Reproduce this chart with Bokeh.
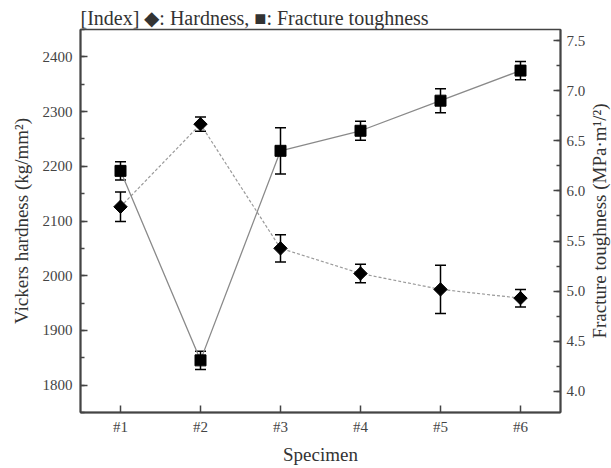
import math
from bokeh.plotting import figure
from bokeh.models import (ColumnDataSource, FactorRange, Range1d, LinearAxis, Label,
                          SingleIntervalTicker, Whisker, TeeHead, PrintfTickFormatter)
from bokeh.embed import file_html
from bokeh.resources import INLINE

specimens = ["#1", "#2", "#3", "#4", "#5", "#6"]
hardness = [2126, 2277, 2050, 2004, 1975, 1959]
hardness_err = [27, 13, 25, 17, 44, 16]
toughness = [6.20, 4.31, 6.40, 6.60, 6.90, 7.20]
toughness_err = [0.09, 0.09, 0.23, 0.095, 0.12, 0.09]

SERIF = "Liberation Serif"
TXT = "#333333"
AX = "#444444"

src_h = ColumnDataSource(dict(
    x=specimens, y=hardness,
    upper=[v + e for v, e in zip(hardness, hardness_err)],
    lower=[v - e for v, e in zip(hardness, hardness_err)]))
src_t = ColumnDataSource(dict(
    x=specimens, y=toughness,
    upper=[v + e for v, e in zip(toughness, toughness_err)],
    lower=[v - e for v, e in zip(toughness, toughness_err)]))

W, H = 611, 468
BL, BR, BT, BB = 80, 51, 29, 56
Y2 = (3.79, 7.61)

p = figure(width=W, height=H, output_backend="svg", toolbar_location=None,
           x_range=FactorRange(factors=specimens, range_padding=0),
           y_range=Range1d(1750, 2450),
           min_border_left=BL, min_border_right=BR, min_border_top=BT, min_border_bottom=BB)
p.extra_y_ranges = {"right": Range1d(*Y2)}

p.title.text = "[Index] \u25c6: Hardness, \u25a0: Fracture toughness"
p.title.text_font = SERIF
p.title.text_font_size = "20px"
p.title.text_font_style = "normal"
p.title.text_color = TXT
p.title.align = "left"
p.title.standoff = 2

p.grid.visible = False
p.background_fill_color = "white"
p.border_fill_color = "white"
p.outline_line_color = AX
p.outline_line_width = 1.5

# lines
p.line("x", "y", source=src_h, line_color="#9a9a9a", line_width=1.2, line_dash="3 2")
p.line("x", "y", source=src_t, line_color="#8a8a8a", line_width=1.3, y_range_name="right")

# error bars
for src, rng in ((src_h, "default"), (src_t, "right")):
    w = Whisker(source=src, base="x", upper="upper", lower="lower", dimension="height",
                line_color="black", line_width=1.5, y_range_name=rng,
                upper_head=TeeHead(size=11, line_color="black", line_width=1.5),
                lower_head=TeeHead(size=11, line_color="black", line_width=1.5))
    p.add_layout(w)

# markers
p.scatter("x", "y", source=src_h, marker="square", angle=math.pi / 4, size=9.5,
          fill_color="black", line_color="black")
p.scatter("x", "y", source=src_t, marker="square", size=11,
          fill_color="black", line_color="black", y_range_name="right")

# axes
def style_axis(ax):
    ax.axis_line_color = AX
    ax.axis_line_width = 2
    ax.major_tick_line_color = AX
    ax.major_tick_line_width = 1.5
    ax.minor_tick_line_color = AX
    ax.minor_tick_line_width = 1.5
    ax.major_tick_in = 7
    ax.major_tick_out = 0
    ax.minor_tick_in = 4
    ax.minor_tick_out = 0
    ax.major_label_text_font = SERIF
    ax.major_label_text_font_size = "15px"
    ax.major_label_text_color = "#444444"
    ax.axis_label_text_font = SERIF
    ax.axis_label_text_font_size = "19px"
    ax.axis_label_text_font_style = "normal"
    ax.axis_label_text_color = TXT

xa = p.xaxis[0]
style_axis(xa)
xa.axis_label = "Specimen"
xa.major_label_standoff = 6
xa.axis_label_standoff = 6

ya = p.yaxis[0]
style_axis(ya)
ya.ticker = SingleIntervalTicker(interval=100, num_minor_ticks=2)
ya.axis_label = "Vickers hardness (kg/mm\u00b2)"
ya.major_label_standoff = 8
ya.axis_label_standoff = 8

ra = LinearAxis(y_range_name="right",
                ticker=SingleIntervalTicker(interval=0.5, num_minor_ticks=2),
                formatter=PrintfTickFormatter(format="%.1f"))
style_axis(ra)
ra.major_label_standoff = 6
p.add_layout(ra, "right")

# right axis title, reading bottom-to-top like the left one (placed in the right panel)
n = len(specimens)
frame_w = W - BL - BR - 4
label_x = n + 39.0 * n / frame_w          # px right of the frame edge
label_y = (Y2[0] + Y2[1]) / 2
p.add_layout(Label(x=label_x, y=label_y, y_range_name="right",
                   text="Fracture toughness (MPa\u00b7m\u00b9/\u00b2)", angle=math.pi / 2,
                   text_align="center", text_baseline="middle",
                   text_font=SERIF, text_font_size="19px", text_color=TXT), "right")

open("out.html", "w").write(file_html(p, INLINE))
